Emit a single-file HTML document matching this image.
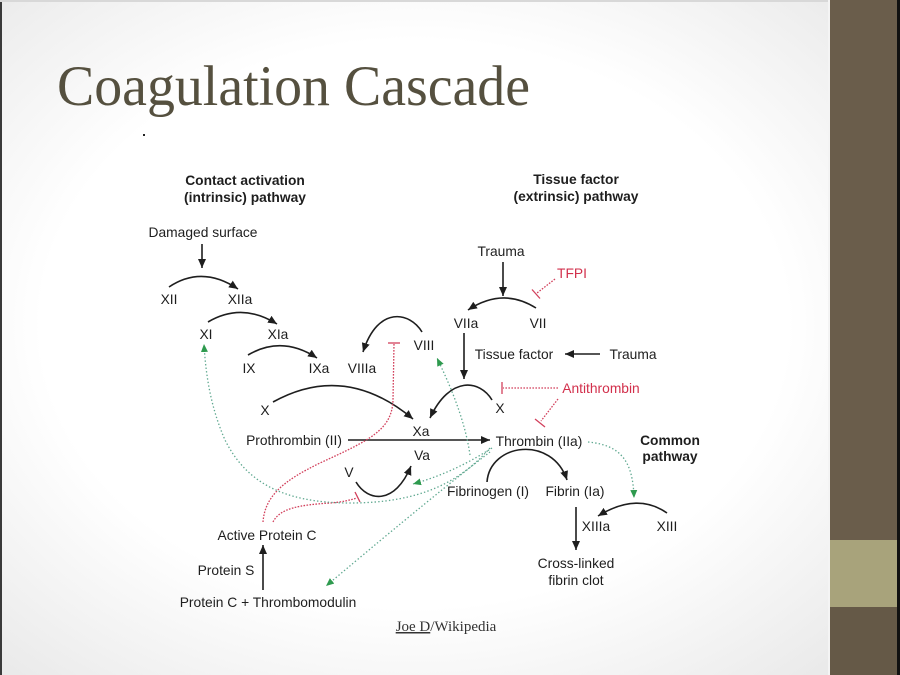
<!DOCTYPE html>
<html><head><meta charset="utf-8">
<style>
html,body{margin:0;padding:0;}
body{width:900px;height:675px;overflow:hidden;position:relative;background:#fff;}
#bg{position:absolute;left:0;top:0;width:829px;height:675px;background:radial-gradient(ellipse 75% 70% at 50% 48%,#ffffff 60%,#e9e9e9 100%);}
#edgeL{position:absolute;left:0;top:0;width:2px;height:675px;background:#3a3a3a;}
#edgeT{position:absolute;left:0;top:0;width:829px;height:2px;background:#d8d8d8;}
#side{position:absolute;left:830px;top:0;width:67px;height:675px;background:#6a5d4b;}
#sideHi{position:absolute;left:828px;top:0;width:2px;height:675px;background:#f4f4f4;}
#olive{position:absolute;left:830px;top:540px;width:67px;height:67px;background:#a8a37b;}
#lower{position:absolute;left:830px;top:607px;width:67px;height:68px;background:#655947;}
#edgeR{position:absolute;left:897px;top:0;width:3px;height:675px;background:#111;}
svg{position:absolute;left:0;top:0;}
</style></head><body>
<div id="bg"></div><div id="edgeL"></div><div id="edgeT"></div>
<div id="sideHi"></div><div id="side"></div><div id="olive"></div><div id="lower"></div><div id="edgeR"></div>
<svg width="900" height="675" viewBox="0 0 900 675" xmlns="http://www.w3.org/2000/svg">
<defs>
<marker id="ab" markerUnits="userSpaceOnUse" markerWidth="10" markerHeight="8" refX="9" refY="4" orient="auto">
<path d="M0,0 L9,4 L0,8 z" fill="#1e1e1e"/></marker>
<marker id="ag" markerUnits="userSpaceOnUse" markerWidth="9" markerHeight="8" refX="8" refY="3.5" orient="auto">
<path d="M0,0 L8,3.5 L0,7 z" fill="#2e9a4e"/></marker>
</defs>

<text x="57" y="105" font-family="Liberation Serif, serif" font-size="57" fill="#55503f" textLength="473" lengthAdjust="spacingAndGlyphs">Coagulation Cascade</text>
<rect x="143" y="134" width="2" height="2" fill="#222"/>

<!-- black connectors -->
<g fill="none" stroke="#1e1e1e" stroke-width="1.6" marker-end="url(#ab)">
<path d="M202,244 L202,268"/>
<path d="M169,287 Q202,265 238,289"/>
<path d="M208,322 Q242,302 277,324"/>
<path d="M248,355 Q282,335 317,358"/>
<path d="M422,332 C410,312 378,305 363,352"/>
<path d="M273,402 Q345,362 413,419"/>
<path d="M492,400 C480,380 450,375 430,418"/>
<path d="M503,262 L503,296"/>
<path d="M536,308 Q503,287 468,310"/>
<path d="M464,333 L464,379"/>
<path d="M600,354 L565,354"/>
<path d="M348,440 L490,440"/>
<path d="M356,482 C368,502 395,505 411,466"/>
<path d="M487,482 C490,443 552,435 567,480"/>
<path d="M576,507 L576,550"/>
<path d="M667,513 Q637,492 598,516"/>
<path d="M263,590 L263,545"/>
</g>

<!-- red inhibitors -->
<g fill="none" stroke="#d2405c" stroke-width="1.3">
<path d="M555,279 L537,293" stroke-dasharray="1.6 1.4"/>
<path d="M532,289.5 L540,298.5"/>
<path d="M558,388 L503,388" stroke-dasharray="1.6 1.4"/>
<path d="M502,382 L502,394"/>
<path d="M558,399 L541,421" stroke-dasharray="1.6 1.4"/>
<path d="M535,419 L545,427"/>
<path d="M263,522 C265,495 285,480 320,463 C370,440 392,430 393,400 L394,344" stroke-dasharray="1.6 1.4"/>
<path d="M388,343 L400,343"/>
<path d="M273,522 C280,508 300,505 330,503 C343,502 350,500 357,498" stroke-dasharray="1.6 1.4"/>
<path d="M355,492 L360,502"/>
</g>

<!-- green dotted -->
<g fill="none" stroke="#5fa890" stroke-width="1.3" stroke-dasharray="1.4 2.2" marker-end="url(#ag)">
<path d="M490,448 C460,482 420,503 350,503 C280,503 245,480 225,440 C212,410 206,380 204,344"/>
<path d="M492,448 C470,462 445,475 413,484"/>
<path d="M470,455 C465,420 450,385 437,358"/>
<path d="M490,452 Q440,490 326,586"/>
<path d="M588,442 C620,445 633,460 634,498"/>
</g>

<g font-family="Liberation Sans, Arial, sans-serif" font-size="13.8" fill="#1e1e1e" text-anchor="middle">
<g font-weight="bold">
<text x="245" y="185">Contact activation</text>
<text x="245" y="202">(intrinsic) pathway</text>
<text x="576" y="184">Tissue factor</text>
<text x="576" y="201">(extrinsic) pathway</text>
<text x="670" y="445">Common</text>
<text x="670" y="461">pathway</text>
</g>
<text x="203" y="237">Damaged surface</text>
<text x="169" y="304">XII</text>
<text x="240" y="304">XIIa</text>
<text x="206" y="339">XI</text>
<text x="278" y="339">XIa</text>
<text x="249" y="373">IX</text>
<text x="319" y="373">IXa</text>
<text x="362" y="373">VIIIa</text>
<text x="424" y="350">VIII</text>
<text x="265" y="415">X</text>
<text x="421" y="436">Xa</text>
<text x="294" y="445">Prothrombin (II)</text>
<text x="422" y="460">Va</text>
<text x="349" y="477">V</text>
<text x="501" y="256">Trauma</text>
<text x="466" y="328">VIIa</text>
<text x="538" y="328">VII</text>
<text x="514" y="359">Tissue factor</text>
<text x="633" y="359">Trauma</text>
<text x="500" y="413">X</text>
<text x="539" y="446">Thrombin (IIa)</text>
<text x="488" y="496">Fibrinogen (I)</text>
<text x="575" y="496">Fibrin (Ia)</text>
<text x="596" y="531">XIIIa</text>
<text x="667" y="531">XIII</text>
<text x="576" y="568">Cross-linked</text>
<text x="576" y="585">fibrin clot</text>
<text x="267" y="540">Active Protein C</text>
<text x="226" y="575">Protein S</text>
<text x="268" y="607">Protein C + Thrombomodulin</text>
<text x="572" y="278" fill="#d2304c">TFPI</text>
<text x="601" y="393" fill="#d2304c">Antithrombin</text>
</g>
<text x="446" y="631" font-family="Liberation Serif, serif" font-size="15" fill="#333" text-anchor="middle"><tspan text-decoration="underline">Joe D</tspan>/Wikipedia</text>
</svg>
</body></html>
